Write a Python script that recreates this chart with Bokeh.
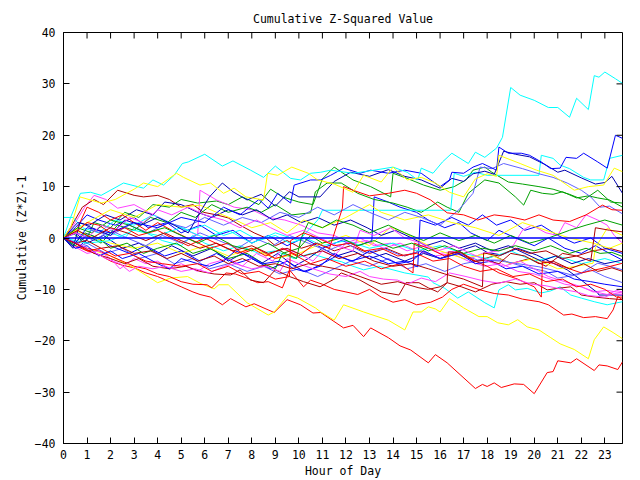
import math
from bokeh.plotting import figure
from bokeh.models import Range1d, FixedTicker
from bokeh.embed import file_html
from bokeh.resources import INLINE

TITLE = "Cumulative Z-Squared Value"
X_LABEL = "Hour of Day"
Y_LABEL = "Cumulative (Z*Z)-1"
hour_ticks = list(range(0, 24))
value_ticks = [-40, -30, -20, -10, 0, 10, 20, 30, 40]

# ---- series: (hour, cumulative value) ----
cyan_a = [(0,0),(0.3,4),(0.72,8.7),(1.15,8.9),(1.6,8.3),(2.55,10.7),(3.4,9.7),(3.8,11.3),(4.25,10.3),(4.7,12.2),(5.05,14.5),(5.3,14.8),(6.0,16.3),(6.75,14),(7.2,15),(7.95,13.2),(8.5,11.8),(9.0,14),(9.65,11.6),(10.07,11.3),(10.5,12.6),(10.93,12.8),(11.35,13.2),(12.3,12.6),(13.2,13.2),(14.0,13.8),(14.6,12.8),(15.05,11.3),(15.2,13.6),(15.7,12.6),(16.1,14.8),(16.5,16.5),(17.2,14.5),(17.5,16.7),(17.9,15.7),(18.4,17.5),(18.65,19.6),(19.0,29.3),(19.4,27.8),(20.0,26.8),(20.6,25.4),(21.0,25.4),(21.5,23.5),(21.8,27.2),(22.3,25),(22.55,31.6),(22.75,31.3),(23.0,32.3),(23.45,31),(23.75,30.1)]
cyan_b = [(0,0),(1,-1),(2,-0.5),(3,1.5),(4,0.5),(5,2),(6,0),(7,1.5),(8,-1),(9,1),(10,-0.5),(10.8,3.5),(11.0,5.4),(16.45,5.4),(16.6,12.6),(17,12),(17.5,12.8),(18,12.2),(20.2,12.2),(20.3,16.1),(20.8,15.5),(21.1,14.2),(21.5,13.5),(22.1,11.8),(22.4,11.3),(22.95,11.3),(23.2,15.5),(23.75,16.1)]
cyan_c = [(0,0),(0.5,-1.5),(1,0.5),(1.5,-0.5),(2,1),(2.6,0),(3,2),(3.5,1),(4.2,-0.5),(5,-1.5),(5.5,0.5),(6,-1),(6.8,-2.5),(7.5,-1.5),(8.3,-3),(9,-2.5),(9.8,-4),(10.5,-3),(11.2,-4),(11.8,-4.6),(12.3,-5.5),(12.75,-6.2),(13.4,-5.5),(14,-6.2),(14.5,-6.8),(15.5,-7.6),(15.7,-8.7),(16.2,-9.8),(16.75,-11.7),(17.2,-10.5),(17.9,-12.6),(18.3,-13.6),(18.5,-10.1),(18.9,-9.1),(19.2,-10.1),(19.7,-9.8),(20.3,-10.7),(20.7,-10.3),(21.1,-9.5),(21.55,-11.1),(22,-11.7),(22.55,-12.4),(23.1,-13),(23.75,-12.4)]
cyan_d = [(0,4),(0.4,4),(0.8,2),(1.5,1),(2.2,3.5),(3,2.5),(3.8,4.5),(4.5,3),(5.3,1.5),(6,2.5),(6.8,0.5),(7.5,1.5),(8.3,-0.5),(9,0.5),(9.6,-1),(10.3,0),(11,-1.5),(12,-0.5),(13,-2),(14,-1),(15,-2.5),(16,-1.5),(17,-3),(18,-4),(19,-2.5),(20,-4.5),(21,-3.5),(22,-5),(23,-4),(23.75,-5)]

yellow_a = [(0,0),(1,-2),(2,-3.5),(3.0,-5.8),(4.0,-8.7),(4.55,-7.8),(5.27,-7.5),(5.8,-8.8),(6.4,-9.9),(6.6,-9.1),(7.0,-9.1),(7.8,-12.6),(8.7,-15),(8.95,-14.4),(9.55,-11.1),(9.95,-11.7),(10.7,-13.6),(10.93,-14.4),(11.5,-16),(11.9,-13),(12.75,-14.4),(13.8,-16),(14.5,-17.9),(14.85,-14.4),(15.2,-14.4),(15.5,-13.4),(15.8,-13.8),(16.0,-14.4),(16.4,-11.8),(17.0,-13.6),(17.65,-15.3),(18.0,-15.3),(18.45,-16.5),(18.9,-16.9),(19.3,-15.9),(19.7,-17.3),(20.2,-17.9),(20.7,-19.4),(21.1,-20.6),(21.7,-21.7),(22.3,-23.5),(22.55,-19.8),(22.95,-17.3),(23.35,-18.4),(23.75,-19.6)]
yellow_b = [(0,0),(0.3,2),(0.7,8),(1.6,6.8),(2.2,7.5),(3.0,9.5),(3.4,10.7),(4.0,10),(4.4,11.3),(4.8,12.6),(5.1,11.8),(5.8,10.3),(6.25,10.7),(6.8,8.7),(7.25,9.7),(7.75,8),(8.5,7.4),(8.67,12.6),(9.1,12.2),(9.7,13.8),(10.4,12.6),(10.8,11.3),(11.5,10.5),(12.3,8.9),(12.75,12.2),(13.5,10.9),(14.0,13.8),(14.6,11.3),(15.2,11.8),(15.8,10.7),(16.4,8.9),(17.0,8),(17.5,11.5),(18.0,12.5),(18.4,12),(18.5,16.1),(19.4,14.5),(20.1,13.2),(20.8,12.2),(21.7,9.3),(22.3,10),(22.95,10.3),(23.4,13.6),(23.75,12.9)]
yellow_c = [(0,0),(0.5,1.5),(1,0.5),(2,-1),(3,-2),(4,-1),(5,-3),(6,-1.5),(7,-3.5),(8,-2),(9,-4),(10,-3),(11,-1),(12,0.5),(13,-1.5),(13.9,2.1),(14.5,1),(15.3,-1),(16,-2.5),(17,-4),(18,-3),(19,-5),(20,-4),(21,-6),(21.8,-5.5),(22.5,-4.9),(22.6,-1.9),(23.1,1.9),(23.75,0.5)]
yellow_d = [(0,0),(1,3),(2,5.5),(3,4),(4,6.5),(5,6),(5.8,6.4),(6.5,5),(7.3,3.5),(8,2),(8.8,3),(9.5,1),(10.2,3.5),(11,2),(12,4),(13,6.5),(13.5,5),(14.5,3.5),(15.5,4.5),(16.5,3),(17.5,2),(18.5,0.5),(19.5,3),(20.5,1.5),(21.5,0),(22.5,-1),(23.2,-2),(23.75,-1)]

blue_a = [(0,0),(0.5,-1),(1,2),(2,1),(3,3),(4,2),(5,4),(6,3),(6.8,6),(7.5,4.5),(8.3,7.5),(8.7,5.8),(9.1,8.7),(9.65,6.8),(9.8,10.3),(10.5,11.3),(10.93,11.3),(11.35,12.2),(11.9,13.6),(12.6,12.6),(13.05,13.2),(13.8,12.6),(14.5,13.2),(15.2,12.6),(16.0,10),(16.4,11.3),(16.5,12.8),(17.0,12.6),(17.4,13.8),(17.8,14.5),(18.4,13.2),(18.5,17.7),(18.9,16.5),(19.45,16.5),(19.8,16.1),(20.3,14.8),(20.7,13.5),(21.1,13.6),(21.35,15.7),(21.8,15.5),(22.1,16.5),(22.7,14.8),(23.1,13.6),(23.45,20),(23.75,19.4)]
blue_b = [(0,0),(0.5,2),(1,4.5),(1.5,3.5),(2.2,2.5),(3,4),(3.6,2),(4.4,3),(5,1),(5.8,2.5),(6.5,0.5),(7.2,1.5),(8,-1),(8.7,0.5),(9.5,-1.5),(10.2,0),(11,-2),(11.8,-0.5),(12.5,-1.5),(13.1,-0.5),(13.2,8),(13.8,7),(14.3,6),(15,5),(15.5,3.5),(16.2,2),(16.8,3),(17.3,1),(18,-0.5),(18.5,1.5),(19.2,0),(20,-1.5),(20.6,0),(21.3,-2),(22,-3),(22.6,-1.5),(23.2,-3),(23.75,-4.3)]
blue_c = [(0,0),(0.7,-1.5),(1.2,0.5),(2,-1.5),(2.8,-3),(3.5,-1.5),(4.3,-3.5),(5,-2.5),(5.8,-4.5),(6.5,-3),(7.3,-5),(8,-4),(8.8,-6),(9.5,-4.5),(10.2,-6.5),(10.9,-5.5),(11.5,-3),(12.2,-4.5),(13,-3.5),(13.8,-5),(14.5,-4.5),(15.05,-5.6),(15.15,3.5),(15.8,2.5),(16.5,4),(17.2,2.5),(17.8,4.5),(18.4,2.5),(19,3.5),(19.6,1.5),(20.3,2.5),(21,0.5),(21.7,-1),(22.4,0),(23,-2),(23.75,-3)]
blue_d = [(0,0),(0.5,-2),(1,-1.5),(1.5,-3.5),(2,-2.5),(2.5,-4),(3.2,-3),(4,-5),(4.5,-6),(5,-4),(5.7,-5),(6.2,-5.5),(6.8,-4.5),(7.3,-2.5),(7.9,-3.5),(8.5,-5),(9.2,-4.5),(9.8,-6),(10.3,-6.6),(11,-5),(11.6,-3.5),(12.3,-4.5),(13,-2.5),(13.7,-4),(14.2,-5),(14.8,-4.5),(15.3,-2.5),(16,-4),(16.8,-3),(17.5,-5),(18.2,-4.5),(18.8,-6),(19.5,-5.5),(20.2,-7),(21,-6.5),(21.7,-8),(22.4,-8.5),(23,-9),(23.75,-9.5)]

navy_a = [(0,0),(0.4,-2),(0.7,3),(1.2,2),(2,0.5),(2.6,3.5),(3.3,2.5),(4,4),(4.7,2.5),(5.3,1),(5.8,5),(6.2,8),(6.75,10.7),(7.2,9),(7.8,7.4),(8.4,8.5),(9,6.2),(9.6,9),(10,8),(10.9,8),(11.5,11),(12.2,12.8),(13,12),(13.8,13.3),(14.5,12),(15.2,11.3),(16,9.7),(16.5,11.6),(17,11),(17.4,12.5),(17.9,13),(18.3,12.4),(18.7,16.9),(19.2,16.3),(19.8,15.8),(20.5,14.2),(21,12.8),(21.3,13.2),(22,11.7),(22.6,10.5),(23,10.8),(23.3,12),(23.75,8.7)]
navy_b = [(0,0),(0.5,1),(1,-1),(1.7,0.5),(2.5,-2),(3.2,-1),(4,-3),(4.6,-1.5),(5.5,-3.5),(6.3,-2),(7,-4.5),(7.6,-3),(8.4,-5),(9.1,-3),(9.8,-5.5),(10.4,-4),(11,-2),(11.6,-3.5),(12.3,-2.5),(13,-4),(13.7,-3),(14.5,-4.5),(15.3,-3),(16,-4),(16.8,-2.5),(17.5,-1.5),(18,-2.8),(18.6,-3.3),(19.3,-2),(20.1,-3.3),(20.8,-4.9),(21.4,-6.2),(22,-8.2),(22.7,-10.7),(22.75,-11.1),(23.75,-11.1)]
navy_c = [(0,0),(0.6,3),(1.1,2.5),(1.8,4.5),(2.4,3.5),(3.1,5.5),(3.8,4.5),(4.3,7),(5,6.5),(5.7,5),(6.3,4),(7,5.5),(7.6,4.5),(8.2,5.5),(8.9,3.5),(9.5,4.5),(10.1,3),(10.8,4),(11.5,2.5),(12.2,3.5),(12.9,2),(13.5,0.5),(14.1,1.5),(14.8,0),(15.4,-1.5),(16.1,-0.5),(16.8,-2),(17.5,-1),(18.2,-2.5),(18.9,-1.5),(19.6,-3),(20.3,-4.5),(20.9,-3.5),(21.6,-5),(22.3,-4),(23,-5),(23.75,-4.3)]

lblue_b = [(0,0),(0.6,-1),(1.2,1.5),(2,0.5),(2.8,2.5),(3.6,1),(4.4,3),(5.2,2),(6,4),(6.8,2.5),(7.6,4),(8.4,3),(9.2,5),(10,4),(10.8,6),(11.5,4.5),(12.3,6.5),(13,5),(13.8,3.5),(14.5,5),(15.2,4),(16,2.5),(16.8,5.5),(17.4,8.7),(17.7,13.8),(18.2,13.5),(18.7,14.5),(19.5,13.5),(20.2,12.5),(20.8,11.8),(21.4,10.7),(22,9.3),(22.4,8),(22.8,6),(23.2,6.2),(23.75,4.7)]
lblue_c = [(0,0),(0.5,-2),(1,-1),(1.8,-3),(2.5,-2),(3.2,-4),(4,-3),(4.7,-5),(5.5,-4),(6.2,-6),(7,-5),(7.8,-6.5),(8.5,-5.5),(9.2,-7),(10,-6),(10.8,-7.5),(11.5,-6),(12.2,-4.5),(13,-5.5),(13.8,-4),(14.6,-6),(15.4,-5),(16.2,-6.5),(17,-5),(17.8,-4.3),(18.6,-4.5),(19.3,-5),(20.2,-5.6),(21,-6.5),(21.6,-7.2),(22,-6.8),(22.7,-4.9),(23.2,-5.5),(23.75,-6.2)]
lblue_d = [(0,0),(0.6,1),(1.3,-0.5),(2,1.5),(2.7,0),(3.5,-1.5),(4.2,0.5),(5,-1),(5.8,1),(6.6,-0.5),(7.4,-2),(8.1,0),(8.9,-1.5),(9.6,0.5),(10.4,-1),(11.2,-2.5),(12,-1),(12.8,-3),(13.6,-2),(14.4,-3.5),(15.2,-2.5),(16,-4),(16.8,-3),(17.6,-4.3),(18.6,-4.3),(19.5,-5.5),(20.5,-6.5),(21,-7.8),(21.8,-7.2),(22.4,-6.2),(23,-7.5),(23.75,-8.7)]

green_a = [(0,0),(0.4,1),(0.9,-1),(1.3,3),(2,2),(2.6,5),(3.2,4),(3.8,6.5),(4.5,6),(5,7.5),(5.7,6.8),(6.5,7.2),(7,6.5),(7.6,8),(8.3,6.5),(8.8,9.5),(9.3,8),(10,7),(10.6,6.5),(11,11.5),(11.5,13.8),(12.3,11.3),(13.05,10),(13.9,8),(14,12.6),(14.6,11.6),(15.3,10.3),(16,9.3),(16.6,10),(17.1,11.3),(17.4,13.2),(17.9,13.8),(18.2,12.8),(18.9,10.9),(19.5,10.5),(20.2,10),(20.8,9.5),(21.5,8.5),(22.1,7.4),(22.7,9.3),(23.25,7),(23.75,6.8)]
green_b = [(0,0),(0.5,-1.5),(1,0.5),(1.6,-1),(2.3,2.5),(3,1.5),(3.7,4),(4.4,3),(5,5),(5.6,4),(6.3,6.5),(7,5),(7.8,6),(8.4,5),(9,6.5),(9.7,4.5),(10.5,4.9),(10.7,9),(11.2,10.7),(11.8,10.7),(12.5,8.7),(13.2,7.5),(14,6.8),(14.6,6),(15.2,5),(15.9,7),(16.3,6),(16.8,5),(17.2,8.7),(17.9,11.3),(18.5,10.7),(19.2,8),(19.55,6.4),(19.85,9.3),(20.35,8.7),(20.8,8.5),(21.2,9),(21.8,7.8),(22.3,8.2),(22.7,7.8),(23.2,7.4),(23.75,6)]
green_c = [(0,0),(0.4,-1.5),(0.9,1),(1.5,0),(2,-2),(2.7,-1),(3.4,-3),(4,-2),(4.8,-1),(5.5,-3),(6.2,-2),(7,-4),(7.8,-3),(8.5,-5),(9,-6),(9.3,-3),(10,-2),(10.5,0.5),(11,-1),(11.8,0),(12.5,-1.5),(13.2,-0.5),(14,-2),(14.8,-1),(15.5,-2.5),(16.2,-1.5),(17,-3),(17.8,-2),(18.5,-2.5),(19.2,-1.5),(20,-2.5),(20.7,-1.5),(21.5,-3),(22.2,-2),(22.8,-3),(23.3,-2.8),(23.75,-3.6)]
green_d = [(0,0),(0.6,2),(1.2,1),(2,3.5),(2.8,2.5),(3.5,1),(4.3,2),(5,0.5),(5.7,-1),(6.4,0.5),(7.2,-1.5),(8,-2.5),(8.7,-1),(9.4,-3),(9.9,-4),(10.1,0),(10.4,3),(11,2),(11.6,3.5),(12.3,2.5),(13,1),(13.8,2.5),(14.5,1),(15.3,-0.5),(16,1),(16.8,-0.5),(17.5,0.5),(18.3,-1),(19,0.5),(19.8,-1),(20.6,0),(21.5,1.5),(22.2,2.5),(23,3.5),(23.75,2.5)]

red_a = [(0,0),(0.5,-1.5),(1,-2.5),(1.5,-3.2),(2,-4.5),(2.5,-5.3),(3,-5.8),(3.5,-6.8),(4,-7.5),(4.5,-8.5),(5.0,-9.5),(5.5,-10.5),(5.8,-11),(6.25,-11.5),(6.75,-13),(7.1,-11.8),(7.75,-13.4),(8.1,-12.8),(8.95,-14.5),(9.5,-12),(10.07,-13),(10.6,-14.6),(10.93,-14.5),(11.9,-17.5),(12.3,-17),(12.75,-19.2),(13.05,-17.5),(13.8,-19.4),(14.3,-21),(14.75,-21.8),(15.5,-24.3),(15.8,-22.7),(16.3,-24.3),(17.5,-29.3),(17.8,-28.5),(18.0,-28.9),(18.3,-28.2),(18.6,-29.1),(19.15,-28.4),(19.55,-28.5),(20.0,-30.3),(20.55,-26.2),(20.8,-26),(21.0,-23.9),(21.55,-24.3),(21.8,-23.5),(22.55,-25.8),(22.75,-24.7),(23.1,-24.9),(23.55,-25.6),(23.75,-24.1)]
red_b = [(0,0),(0.5,-1),(1,-2),(1.5,-2.5),(2,-3.5),(2.5,-4.5),(3,-5.5),(3.5,-6),(4,-7),(4.5,-7.5),(5,-8.5),(5.5,-9),(6.1,-9.1),(6.3,-9.7),(6.9,-6.8),(7.3,-7),(7.9,-8),(8.25,-8.7),(8.7,-8.5),(9.3,-9.7),(9.6,-6.2),(10.2,-9.5),(10.5,-8.2),(11,-9),(11.5,-10),(12,-10.5),(12.5,-11),(13,-10),(13.5,-11.5),(14,-12.5),(14.5,-12),(15,-13),(15.6,-12.5),(16.1,-11.5),(16.5,-10),(17,-9),(17.7,-10.1),(18.3,-10.8),(18.9,-11.1),(19.5,-11.9),(20.2,-12.4),(20.6,-13),(21.25,-15),(21.6,-14.8),(22.1,-15.5),(22.6,-15.3),(23.1,-15.7),(23.35,-14),(23.55,-11.4),(23.75,-12)]
red_c = [(0,0),(0.6,2),(1,6),(1.5,5),(2,3.5),(2.5,4.5),(3,3),(3.5,1.5),(4,3),(4.8,1),(5.5,-0.5),(6.2,-2),(7,-1),(7.6,-3),(8.2,-2),(9,-4),(9.7,-3),(10.5,-5),(11.2,-4),(12,-5.5),(12.8,-4.5),(13.5,-6),(14.3,-5),(14.85,-6.8),(14.9,-1),(15.5,-2),(16.2,-3.5),(16.8,-2.5),(17.5,-4.5),(18,-5.5),(18.5,-6.8),(19.3,-8),(19.8,-9.1),(20,-9.5),(20.3,-11.5),(20.35,-4.6),(20.8,-4.9),(21.5,-6),(22,-6.8),(22.5,-6.3),(23,-5.8),(23.75,-4.9)]
red_d = [(0,0),(0.5,1),(1,3),(1.5,2.5),(2,1),(2.6,2),(3.2,0.5),(4,1.5),(4.6,0),(5.3,-1.5),(6,0),(6.7,-1.5),(7.4,-3),(8,-2),(8.6,-3.5),(9.3,-2),(10,-3.5),(10.7,-1),(11.3,-2),(11.85,5.8),(11.9,10),(12.3,9.3),(13,8.2),(13.8,8.7),(14.5,9.3),(15,8.7),(15.6,7.4),(16.3,4.9),(17,4.5),(17.6,3.5),(18.3,4.5),(19,4.1),(19.6,3.5),(20.2,4.5),(20.8,3.5),(21.5,3.2),(22.2,4.5),(22.9,6.4),(23.3,5.5),(23.75,5.4)]
red_f = [(0,0),(0.5,-1),(1,-2.5),(1.6,-2),(2.2,-3.5),(2.8,-3),(3.5,-4.5),(4.2,-5),(5,-5.5),(5.7,-5),(6.3,-6.5),(7,-5.5),(7.6,-7),(8.3,-6.5),(9,-8),(9.6,-7.5),(9.65,-0.5),(10.2,1),(10.8,0),(11.5,-1.5),(12.2,-1),(12.8,-2.5),(13.5,-2),(14.2,-3.5),(15,-3),(15.7,-4.5),(16.4,-4),(17,-5.5),(17.7,-6.5),(18.4,-6),(19.1,-7.5),(19.8,-7),(20.5,-8.5),(21.2,-8),(21.8,-9.5),(22.4,-9),(23,-10),(23.5,-11.5),(23.75,-11.5)]

darkred_a = [(0,0),(0.3,2),(0.8,6),(1.3,7.5),(1.7,6.5),(2.3,9.3),(3.0,8.3),(3.4,8),(4.0,8.3),(4.5,7.5),(5.0,6),(5.5,6.5),(5.95,5),(6.5,4.5),(7.0,3.9),(7.5,2.5),(8.1,1),(8.6,0),(9,-1.5),(9.5,-0.5),(10.1,-2),(10.8,-1),(11.5,-2.5),(12.2,-1.5),(13,-3),(13.7,-2),(14.5,-3.5),(15.2,-2.5),(16,-4),(16.7,-3),(17.5,-4.5),(18.3,-3.5),(19,-5),(19.8,-4),(20.5,-5.5),(21.2,-3),(21.8,-3.5),(22.5,-2.5),(23.2,-2),(23.75,-2.7)]
darkred_b = [(0,0),(0.7,-1.5),(1.3,-3),(2,-4),(2.6,-5),(3.2,-4),(3.8,-5.5),(4.5,-6),(5.2,-5.5),(5.8,-6.5),(6.4,-7),(7.1,-7.2),(7.5,-6.2),(7.95,-8.2),(8.5,-8.7),(9,-6.2),(9.6,-7.5),(10.2,-8.5),(10.9,-9.5),(11.5,-8),(11.8,-6.8),(12.6,-8.2),(13.5,-10.5),(14.25,-11.1),(14.55,-8.7),(15.1,-8.7),(15.5,-9.7),(15.9,-10.5),(16.3,-8.7),(16.9,-9.5),(17.5,-10.5),(18.2,-9),(18.8,-8.5),(19.4,-9),(20,-8.7),(20.55,-10.1),(21,-9.8),(21.55,-9.5),(22,-11.1),(22.6,-11.5),(23.2,-11.8),(23.75,-12)]
darkred_c = [(0,0),(0.5,-1),(1,-0.5),(1.6,-2),(2.3,-1.5),(3,-3),(3.7,-2.5),(4.4,-4),(5,-3),(5.7,-4.5),(6.4,-3.5),(7,-5),(7.6,-4),(8.3,-5.5),(9,-5),(9.7,-6),(10.4,-5),(11,-5.5),(11.8,-6.2),(12.6,-7.5),(13.5,-9),(14.2,-8.5),(15.1,-9.7),(15.5,-10),(16,-9.5),(16.3,-8.7),(16.35,-2.7),(16.9,-2.9),(17.45,-4.6),(17.9,-4.3),(18.5,-5),(19,-3),(19.6,-3.5),(20.2,-5),(20.8,-4.5),(21.5,-6),(22.1,-5),(22.7,-6.5),(23.3,-5.8),(23.75,-6.5)]
darkred_d = [(0,0),(0.6,1.5),(1.2,0),(2,2),(2.7,1),(3.5,-0.5),(4.3,1),(5,-0.5),(5.8,-2),(6.5,-1),(7.2,-2.5),(8,-1.5),(8.7,-3),(9.5,-2),(10.2,-3.5),(11,-2.5),(11.7,-4),(12.5,-3),(13.2,-4.5),(14,-5.5),(14.8,-5),(15.5,-6),(16.2,-7),(17,-8),(17.8,-9.5),(17.85,-2.9),(18.5,-3.5),(19.2,-2),(19.8,-3),(20.5,-2.5),(21.2,-4),(21.8,-3.5),(22.4,-4.5),(22.6,2),(23.2,1.5),(23.75,1.2)]

magenta_a = [(0,0),(0.5,3),(0.9,6),(1.3,8.3),(1.8,7.5),(2.3,5.8),(3,6.5),(3.6,5),(4.3,3.5),(5,2),(5.7,0.5),(5.8,9.3),(6.5,7.4),(7.25,6),(8,5.5),(8.7,4),(9.4,3.5),(10.1,2.5),(10.8,1),(11.5,0.5),(12.2,-1),(12.9,-0.5),(13.6,-2),(14.3,-1),(15,-2.5),(15.8,-3.5),(16.5,-3),(17.2,-4.5),(17.9,-5.5),(18.6,-5),(19.3,-6.5),(20,-7),(20.7,-8),(21.3,-9),(22,-9.5),(22.5,-10.5),(23.1,-10.2),(23.75,-10.7)]
magenta_b = [(0,0),(0.4,-1.5),(1,-3),(1.5,-2.5),(2,-4),(2.4,-6),(3,-4),(3.5,-5),(4,-4.5),(4.5,-6),(5,-5),(5.7,-6.5),(6.2,-5),(7,-4),(7.6,-5.5),(8.2,-3),(8.9,-4.5),(9.3,-2),(10,-3),(10.6,-4.5),(11,-2.5),(11.5,-3.5),(12,-1),(12.6,0),(13.2,-1.5),(13.9,-1),(14.6,-2.5),(15.3,-1.5),(16,-3),(16.7,-2.5),(17.3,-4),(17.8,-3),(18.5,-2.5),(19.1,-1.5),(19.5,1.5),(19.9,2.5),(20.5,1),(21,0.5),(21.3,3),(21.8,2),(22.2,4.5),(22.7,3.5),(23.1,2.5),(23.4,0.5),(23.75,-1)]
magenta_c = [(0,0),(0.6,-1),(1.2,-2.5),(1.8,-4),(2.4,-5),(2.8,-6.5),(3.2,-5.5),(3.8,-6),(4.3,-5.5),(5,-6.5),(5.6,-6),(6.2,-6.8),(6.8,-5.5),(7.3,-5),(8,-6),(8.6,-5.5),(9.2,-6.5),(9.5,-4),(10,-5),(10.6,-6),(11.3,-7),(12,-7.5),(12.6,-6.5),(13,-7.5),(13.6,-8),(14.2,-8.2),(14.6,-9),(15.2,-7.8),(15.8,-8.5),(16.4,-6.8),(17.1,-7.5),(17.8,-8.3),(18.5,-8.8),(19.2,-8),(19.9,-9),(20.5,-9.3),(21.2,-10),(21.8,-10.5),(22.3,-11.2),(23,-11.5),(23.4,-10.8),(23.75,-11)]
magenta_d = [(0,0),(0.5,1),(1,0),(1.6,2.5),(2.2,1.5),(2.8,4),(3.4,3),(4,5.5),(4.6,4.5),(5.3,6),(6,4.5),(6.8,3.5),(7.5,2),(8.2,3.5),(8.8,2),(9.5,0.5),(10.2,1.5),(10.9,0),(11.6,-1.5),(12.3,-2.5),(12.6,1.5),(13.2,0.5),(13.9,2),(14.5,0),(15.2,-1),(15.9,-2.5),(16.6,-1.5),(17.3,-3),(18,-4.5),(18.7,-5.5),(19.4,-4.5),(20,-6),(20.6,-7.5),(21.3,-8.5),(22,-9.5),(22.6,-10.5),(23.1,-11),(23.5,-10.2),(23.75,-10.5)]

zero_line = [(0,0),(23.75,0)]

CYAN, YELLOW, BLUE, NAVY = "#00ffff", "#ffff00", "#0000ff", "#0000b0"
LBLUE, GREEN, RED, DRED, MAG = "#6060ff", "#00a000", "#ff0000", "#b00000", "#ff40ff"

series = [
    (red_a, RED), (green_a, GREEN), (blue_b, BLUE), (magenta_a, MAG), (cyan_c, CYAN), (yellow_a, YELLOW),
    (darkred_a, DRED), (lblue_c, LBLUE), (navy_b, NAVY),
    (red_b, RED), (green_b, GREEN), (blue_c, BLUE), (magenta_b, MAG), (cyan_d, CYAN), (yellow_c, YELLOW),
    (darkred_b, DRED), (lblue_d, LBLUE), (navy_c, NAVY),
    (red_c, RED), (green_c, GREEN), (blue_d, BLUE), (magenta_c, MAG), (cyan_b, CYAN), (yellow_d, YELLOW),
    (darkred_c, DRED), (lblue_b, LBLUE), (navy_a, NAVY),
    (red_d, RED), (green_d, GREEN), (blue_a, BLUE), (magenta_d, MAG), (cyan_a, CYAN), (yellow_b, YELLOW),
    (darkred_d, DRED), (red_f, RED),
]

FONT = "DejaVu Sans Mono"
FS = "11.5px"

p = figure(width=640, height=480, output_backend="svg", toolbar_location=None,
           x_range=Range1d(0, 23.75), y_range=Range1d(-40, 40),
           min_border_left=63, min_border_right=18, min_border_top=32, min_border_bottom=36,
           x_axis_label=X_LABEL, y_axis_label=Y_LABEL, title=TITLE)
p.grid.visible = False
p.outline_line_color = "black"
p.outline_line_width = 1
p.background_fill_color = "white"
p.border_fill_color = "white"

p.title.align = "center"
p.title.text_font = FONT
p.title.text_font_size = FS
p.title.text_font_style = "normal"
p.title.text_color = "black"
p.title.standoff = 14

for pts, col in series:
    xs = [a for a, b in pts]
    ys = [b for a, b in pts]
    p.line(xs, ys, line_color=col, line_width=1)

p.line([a for a, b in zero_line], [b for a, b in zero_line], line_color=BLUE, line_width=1.3)

for ax in (p.xaxis[0], p.yaxis[0]):
    ax.axis_line_color = "black"
    ax.major_tick_in = 6
    ax.major_tick_out = 0
    ax.minor_tick_line_color = None
    ax.major_tick_line_color = "black"
    ax.major_label_text_font = FONT
    ax.major_label_text_font_size = FS
    ax.major_label_text_color = "black"
    ax.axis_label_text_font = FONT
    ax.axis_label_text_font_size = FS
    ax.axis_label_text_font_style = "normal"
    ax.axis_label_text_color = "black"

p.xaxis.ticker = FixedTicker(ticks=hour_ticks)
p.yaxis.ticker = FixedTicker(ticks=value_ticks)
p.xaxis.major_label_standoff = 6
p.xaxis.axis_label_standoff = 2
p.yaxis.major_label_standoff = 8
p.yaxis.axis_label_standoff = 3

# mirrored inward ticks on the top and right frame edges
p.ray(x=hour_ticks, y=[40] * len(hour_ticks), length=6, length_units="screen",
      angle=-math.pi / 2, line_color="black", line_width=1)
p.ray(x=[23.75] * len(value_ticks), y=value_ticks, length=6, length_units="screen",
      angle=math.pi, line_color="black", line_width=1)

open("out.html", "w").write(file_html(p, INLINE))
